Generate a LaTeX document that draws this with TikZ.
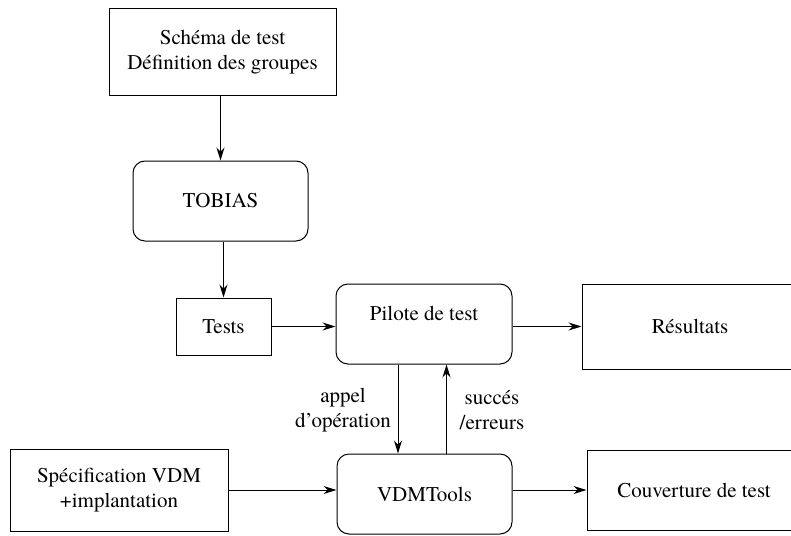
\documentclass[tikz,border=0pt]{standalone}
\usepackage{fontspec}
\setmainfont{texgyretermes-regular.otf}
\usetikzlibrary{arrows.meta}

\tikzset{
  boite/.style={draw,line width=1pt,align=center,inner sep=0pt},
  arrondi/.style={boite,rounded corners=12pt},
  fleche/.style={line width=1pt,-{Stealth[length=13pt,width=8pt]}}
}

\begin{document}
\begin{tikzpicture}[x=1pt,y=-1pt,font=\fontsize{21}{25}\selectfont]
\useasboundingbox (0,0) rectangle (791,535);
% Draw boxes
\node[boite,minimum width=227pt,minimum height=86pt] (schema) at (222.5,52) {Schéma de test\\Définition des groupes};
\node[arrondi,minimum width=175pt,minimum height=80pt] (tobias) at (220.5,201) {TOBIAS};
\node[boite,minimum width=95pt,minimum height=57pt] (tests) at (223.5,326.5) {Tests};
\node[arrondi,minimum width=176pt,minimum height=80pt,text height=15pt,text depth=23pt] (pilote) at (424,324) {Pilote de test};
\node[boite,minimum width=216pt,minimum height=85pt] (resultats) at (690,326.5) {Résultats};
\node[boite,minimum width=218pt,minimum height=82pt] (spec) at (119,490) {Spécification VDM\\+implantation};
\node[arrondi,minimum width=175pt,minimum height=80pt] (vdm) at (424.5,494) {VDMTools};
\node[boite,minimum width=214pt,minimum height=80pt] (couverture) at (694,490) {Couverture de test};
% Draw arrows
\draw[fleche] (schema.south -| tobias.north) -- (tobias.north);
\draw[fleche] (tobias.south -| tests.north) -- (tests.north);
\draw[fleche] (tests.east) -- (tests.east -| pilote.west);
\draw[fleche] (pilote.east |- resultats.west) -- (resultats.west);
\draw[fleche] ([xshift=-26pt]pilote.south) -- ([xshift=-26pt]pilote.south |- vdm.north);
\draw[fleche] ([xshift=22pt]vdm.north) -- ([xshift=22pt]vdm.north |- pilote.south);
\draw[fleche] (spec.east) -- (spec.east -| vdm.west);
\draw[fleche] (vdm.east |- couverture.west) -- (couverture.west);
% Draw labels
\node[align=center] (appel) at (343,410) {appel\\d'opération};
\node[align=center] (retour) at (492,410) {succés\\/erreurs};
\end{tikzpicture}
\end{document}
